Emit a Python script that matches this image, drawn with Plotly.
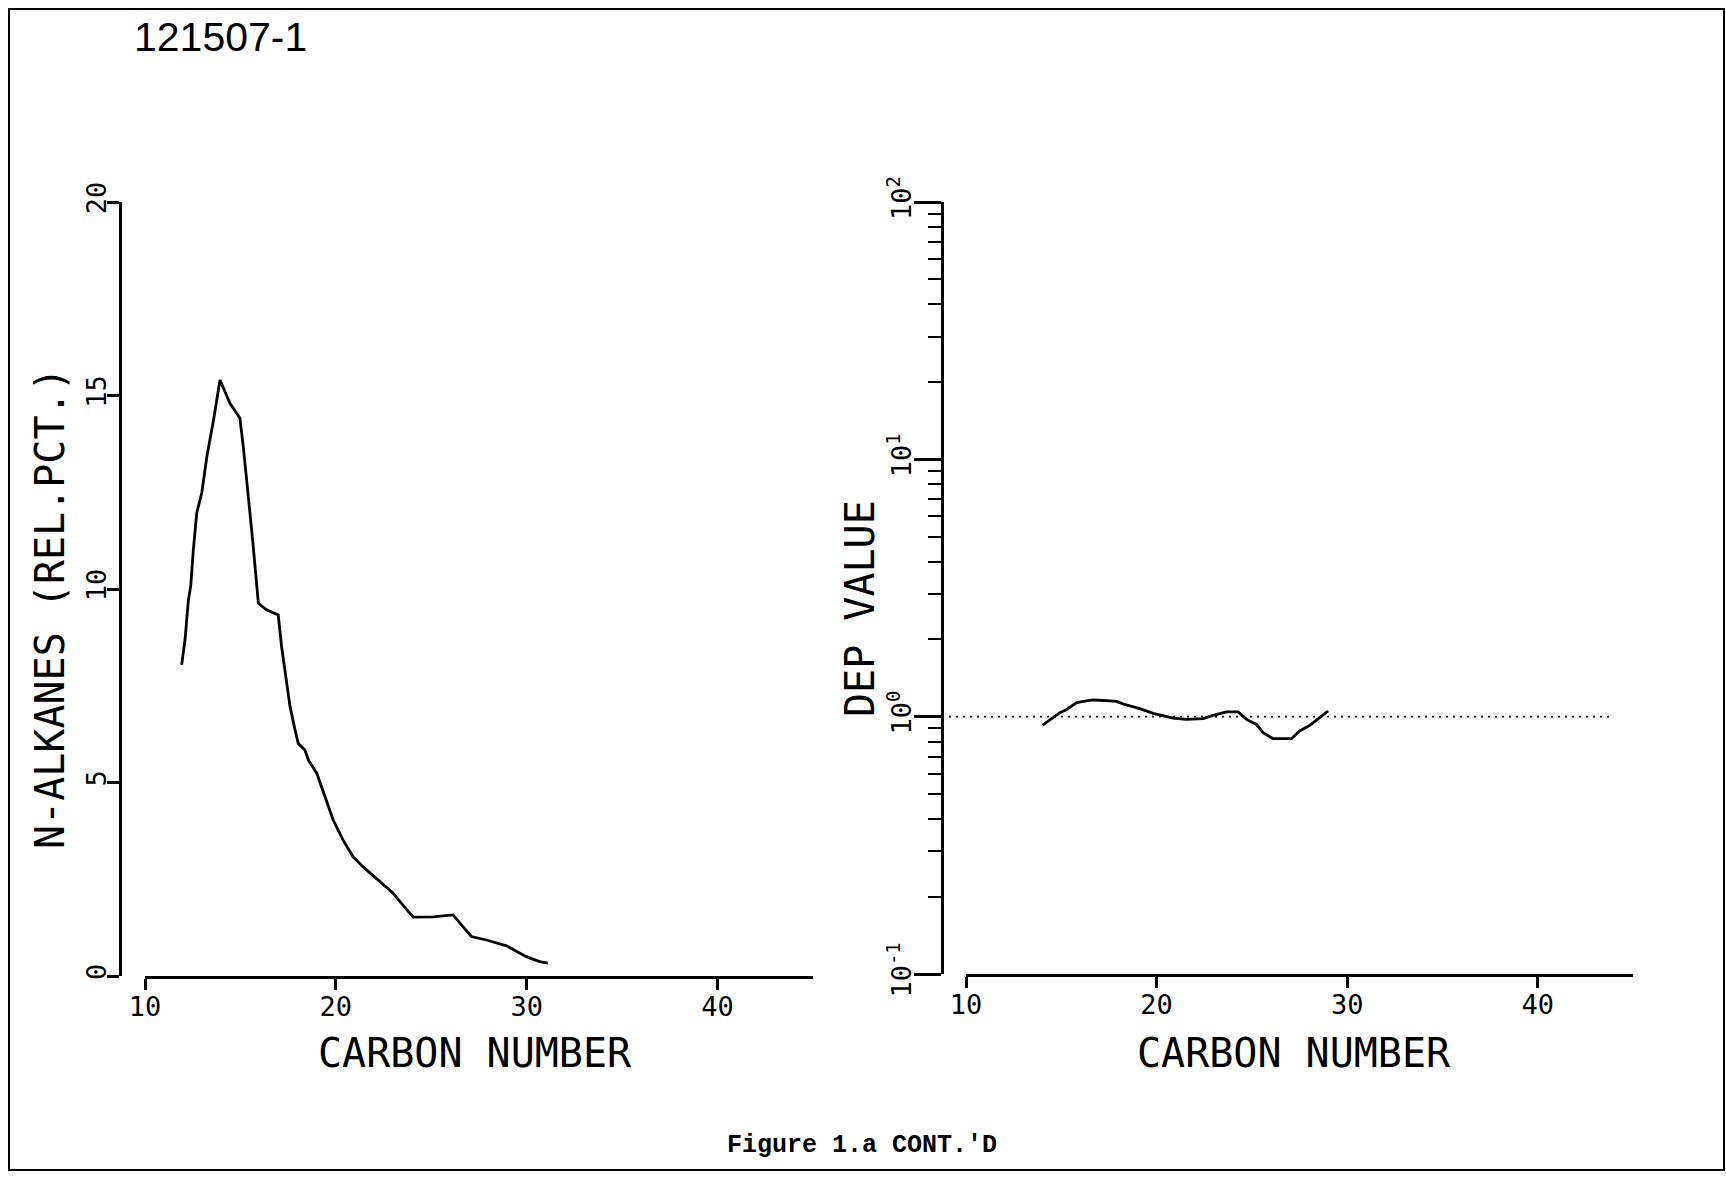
import plotly.graph_objects as go

W, H = 1726, 1177

# Left panel: n-alkane distribution (relative percent) vs carbon number
alkane_carbon = [11.92, 12.10, 12.27, 12.40, 12.53, 12.71, 12.98, 13.24, 13.59, 13.76,
                 13.93, 14.45, 14.97, 15.15, 15.32, 15.50, 15.67, 15.85, 15.94, 16.37,
                 16.98, 17.16, 17.42, 17.60, 17.86, 18.03, 18.38, 18.56, 19.00, 19.50,
                 19.86, 20.38, 20.90, 21.43, 22.13, 23.00, 23.35, 24.05, 25.10, 26.14,
                 26.67, 27.10, 27.89, 28.94, 29.98, 30.68, 31.10]
alkane_pct = [8.04, 8.70, 9.70, 10.10, 11.00, 11.96, 12.50, 13.42, 14.37, 14.88,
              15.40, 14.80, 14.42, 13.68, 12.90, 11.96, 11.10, 10.06, 9.63, 9.46,
              9.33, 8.50, 7.65, 6.96, 6.36, 6.01, 5.84, 5.58, 5.24, 4.55,
              4.03, 3.51, 3.08, 2.82, 2.52, 2.14, 1.93, 1.52, 1.53, 1.58,
              1.27, 1.02, 0.93, 0.78, 0.50, 0.37, 0.33]

# Right panel: odd/even predominance (OEP) curve on a log scale
oep_carbon = [14.02, 14.40, 14.93, 15.28, 15.80, 16.15, 16.68, 17.38, 17.90, 18.25,
              19.12, 19.82, 20.87, 21.57, 22.44, 22.97, 23.67, 24.28, 24.72, 25.24,
              25.59, 26.12, 27.08, 27.51, 28.04, 28.56, 29.00]
oep_value = [0.928, 0.971, 1.036, 1.067, 1.133, 1.147, 1.161, 1.154, 1.147, 1.120,
             1.074, 1.030, 0.988, 0.976, 0.982, 1.012, 1.043, 1.043, 0.976, 0.933,
             0.866, 0.821, 0.821, 0.880, 0.925, 0.991, 1.052]

# Reference level OEP = 1 (dotted)
ref_carbon = [8.74, 44.0]
ref_value = [1.0, 1.0]

x_ticks = [10, 20, 30, 40]
alk_ticks = [0, 5, 10, 15, 20]
oep_major = [0.1, 1, 10, 100]
oep_major_text = ["10<sup>-1</sup>", "10<sup>0</sup>", "10<sup>1</sup>", "10<sup>2</sup>"]
oep_minor = [m * d for d in (0.1, 1, 10) for m in range(2, 10)]


def px_x(p):
    return p / W


def px_y(p):
    return 1 - p / H


INK = "black"
MONO = "DejaVu Sans Mono"
tick_font = dict(family=MONO, size=27, color=INK)

fig = go.Figure()

fig.add_trace(go.Scatter(x=alkane_carbon, y=alkane_pct, mode="lines",
                         line=dict(color=INK, width=2.8), xaxis="x", yaxis="y",
                         showlegend=False))
fig.add_trace(go.Scatter(x=ref_carbon, y=ref_value, mode="lines",
                         line=dict(color=INK, width=1.8, dash="2px,5px"),
                         xaxis="x3", yaxis="y2", showlegend=False))
fig.add_trace(go.Scatter(x=oep_carbon, y=oep_value, mode="lines",
                         line=dict(color=INK, width=2.8), xaxis="x2", yaxis="y2",
                         showlegend=False))

axis_common = dict(showgrid=False, zeroline=False, showline=True, linecolor=INK,
                   linewidth=2.5, ticks="outside", tickcolor=INK, tickwidth=2.5,
                   tickfont=tick_font, automargin=False)

fig.update_layout(
    template="none",
    width=W, height=H,
    margin=dict(l=0, r=0, t=0, b=0, pad=0),
    paper_bgcolor="white", plot_bgcolor="rgba(0,0,0,0)",
    font=dict(family=MONO, color=INK),
    xaxis=dict(domain=[px_x(145), px_x(813)], range=[10, 45], anchor="y",
               tickmode="array", tickvals=x_ticks, ticklen=11,
               ticklabelstandoff=-6, **axis_common),
    yaxis=dict(domain=[px_y(976), px_y(202)], range=[0, 20], anchor="free",
               position=px_x(120), tickmode="array", tickvals=alk_ticks,
               ticklen=12, tickangle=-90, ticklabelstandoff=-10, **axis_common),
    xaxis2=dict(domain=[px_x(966), px_x(1633)], range=[10, 45], anchor="y2",
                tickmode="array", tickvals=x_ticks, ticklen=11,
                ticklabelstandoff=-6, **axis_common),
    yaxis2=dict(domain=[px_y(974), px_y(202)], type="log", range=[-1, 2],
                anchor="free", position=px_x(942), tickmode="array",
                tickvals=oep_major, ticktext=oep_major_text, ticklen=27,
                tickangle=-90, ticklabelstandoff=-8,
                minor=dict(tickmode="array", tickvals=oep_minor, ticks="outside",
                           ticklen=13, tickwidth=2, tickcolor=INK, showgrid=False),
                **axis_common),
    xaxis3=dict(domain=[px_x(942), px_x(1633)], range=[8.74, 45], anchor="y2",
                visible=False, automargin=False),
)

title_font = dict(family=MONO, size=40, color=INK)
annotations = [
    dict(text="121507-1", x=px_x(220), y=px_y(37),
         font=dict(family="Liberation Sans", size=41, color=INK)),
    dict(text="CARBON NUMBER", x=px_x(475), y=px_y(1053), font=title_font),
    dict(text="CARBON NUMBER", x=px_x(1294), y=px_y(1053), font=title_font),
    dict(text="N-ALKANES (REL.PCT.)", x=px_x(50), y=px_y(608), textangle=-90,
         font=title_font),
    dict(text="DEP VALUE", x=px_x(860), y=px_y(609), textangle=-90, font=title_font),
    dict(text="<b>Figure 1.a CONT.'D</b>", x=px_x(862), y=px_y(1145),
         font=dict(family="Liberation Mono", size=25, color=INK)),
]
for a in annotations:
    a.update(xref="paper", yref="paper", showarrow=False,
             xanchor="center", yanchor="middle")
fig.update_layout(annotations=annotations)

# Page frame
fig.add_shape(type="rect", xref="paper", yref="paper",
              x0=px_x(9), x1=px_x(1724), y0=px_y(1170), y1=px_y(9),
              line=dict(color=INK, width=2))

fig.write_html("out.html")
